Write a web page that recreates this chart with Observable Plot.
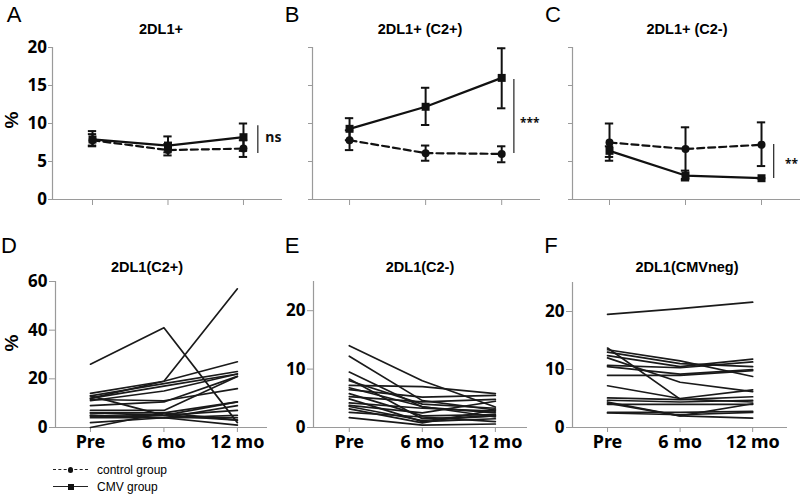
<!DOCTYPE html>
<html><head><meta charset="utf-8">
<script src="https://cdn.jsdelivr.net/npm/d3@7"></script>
<script src="https://cdn.jsdelivr.net/npm/@observablehq/plot@0.6"></script>
<style>
body{margin:0;background:#fff;}
#wrap{position:relative;width:800px;height:494px;overflow:hidden;font-family:"Liberation Sans",Arial,sans-serif;color:#000;}
#wrap svg{position:absolute;left:0;top:0;}
.lbl{position:absolute;white-space:nowrap;line-height:1;transform:translate(-50%,-50%);}
.letter{font-size:22px;}
.title{font-size:14.5px;font-weight:bold;}
.pct{font-size:19px;font-weight:bold;transform:translate(-50%,-50%) rotate(-90deg);}
.leg{position:absolute;font-size:12px;line-height:1;transform:translateY(-50%);white-space:nowrap;}
.sw{position:absolute;width:35px;height:0;}
.mk{position:absolute;background:#111;}
</style></head><body><div id="wrap"></div>
<script>
const times = ["Pre", "6 mo", "12 mo"];
const panelLetters = ["A", "B", "C", "D", "E", "F"];
const panelTitles = ["2DL1+", "2DL1+ (C2+)", "2DL1+ (C2-)", "2DL1(C2+)", "2DL1(C2-)", "2DL1(CMVneg)"];
const legendLabels = ["control group", "CMV group"];
const sigLabels = ["ns", "***", "**"];

// Panel A (mean, error low, error high)
const cmvA = [7.9, 7.1, 8.2], cmvALo = [7.0, 6.2, 6.4], cmvAHi = [9.0, 8.3, 10.0];
const ctlA = [7.8, 6.5, 6.7], ctlALo = [7.1, 5.8, 5.6], ctlAHi = [8.6, 7.3, 7.8];
// Panel B
const cmvB = [9.3, 12.2, 16.0], cmvBLo = [7.8, 9.8, 12.0], cmvBHi = [10.7, 14.7, 19.9];
const ctlB = [7.8, 6.1, 6.0], ctlBLo = [6.5, 5.1, 4.9], ctlBHi = [9.1, 7.1, 7.0];
// Panel C
const cmvC = [6.4, 3.15, 2.8], cmvCLo = [5.1, 2.5, 2.8], cmvCHi = [7.0, 3.8, 2.8];
const ctlC = [7.5, 6.65, 7.2], ctlCLo = [5.6, 2.7, 4.4], ctlCHi = [10.0, 9.5, 10.15];

// Significance brackets: [x, y1, y2, textX, textY, fontSize]
const sigA = [2.19, 9.7, 6.05, 2.29, 8.1, 14];
const sigB = [2.16, 15.8, 6.05, 2.24, 10.0, 12];
const sigC = [2.16, 7.25, 2.75, 2.31, 4.7, 12];

// Individual subjects (Pre, 6 mo, 12 mo)
const subjectsD = [
  [26, 41, 2], [12, 19, 57], [14, 19, 27], [13, 18, 23], [12, 17, 22], [11, 15, 22],
  [11.5, 11, 16], [9, 10.5, 21], [7, 7, 21], [0, 6, 10.5], [6, 5, 10.5], [5, 4, 9],
  [4.5, 5, 7], [13, 5, 3], [5, 4, 5], [2, 4, 4], [6, 6, 3], [4, 4, 1]
];
const subjectsE = [
  [14, 8, 3.5], [12.2, 4.6, 3.0], [9.5, 3.5, 2.5], [8.3, 1.5, 2.0], [8.0, 4.0, 3.3],
  [7.2, 7.0, 5.8], [6.5, 5.2, 5.5], [5.8, 2.0, 2.2], [5.3, 4.4, 4.8], [4.9, 1.0, 1.5],
  [4.2, 3.3, 2.8], [3.6, 1.2, 2.0], [3.2, 0.8, 3.0], [2.6, 1.8, 1.0], [1.7, 0.4, 0.6],
  [3.8, 2.5, 4.5], [6.8, 3.6, 1.8]
];
const subjectsF = [
  [19.5, 20.5, 21.6], [13.7, 4.9, 4.4], [13.4, 11.5, 8.8], [13.0, 11.0, 10.5],
  [12.4, 10.5, 11.8], [12.0, 7.8, 6.2], [10.7, 10.3, 11.3], [10.5, 9.2, 10.0],
  [9.0, 9.0, 9.8], [7.2, 5.0, 6.5], [5.1, 4.8, 5.3], [4.7, 4.4, 4.7],
  [4.4, 2.0, 4.1], [4.2, 2.0, 1.6], [2.6, 2.6, 2.8], [2.5, 2.2, 2.6], [4.0, 4.0, 4.0]
];

const W = 800, H = 494;
const wrap = document.getElementById("wrap");
const axisGrey = "#9a9a9a";

function topPanel({x0, x1, xdom, cmv, cmvLo, cmvHi, ctl, ctlLo, ctlHi, sig, label, showY}) {
  const rows = (vals, lo, hi, g) => vals.map((v, i) => ({i, v, lo: lo[i], hi: hi[i], g}));
  const cmvRows = rows(cmv, cmvLo, cmvHi, "CMV");
  const ctlRows = rows(ctl, ctlLo, ctlHi, "control");
  const all = [...ctlRows, ...cmvRows];
  const s = [{x: sig[0], y1: sig[1], y2: sig[2], tx: sig[3], ty: sig[4], label}];
  return Plot.plot({
    width: W, height: H,
    marginLeft: x0, marginRight: W - x1, marginTop: 47, marginBottom: H - 199,
    style: {background: "transparent", overflow: "visible"},
    x: {domain: xdom, label: null},
    y: {domain: [0, 20], label: null},
    marks: [
      Plot.ruleY([0], {stroke: axisGrey, strokeWidth: 1.2}),
      Plot.ruleX([xdom[0]], {stroke: axisGrey, strokeWidth: 1.2}),
      Plot.axisY({ticks: [0, 5, 10, 15, 20], tickSize: 4, tickPadding: 1.5, stroke: axisGrey,
        tickFormat: showY ? (d => d) : (() => ""), fontSize: 17, fontWeight: "bold", fill: "#000", label: null}),
      Plot.axisX({ticks: [0, 1, 2], tickSize: 6, stroke: axisGrey, tickFormat: () => "", label: null}),
      Plot.line(ctlRows, {x: "i", y: "v", stroke: "#111", strokeWidth: 2.2, strokeDasharray: "7,4"}),
      Plot.line(cmvRows, {x: "i", y: "v", stroke: "#111", strokeWidth: 2.2}),
      Plot.ruleX(all, {x: "i", y1: "lo", y2: "hi", stroke: "#111", strokeWidth: 2}),
      Plot.ruleY(all, {y: "hi", x1: d => d.i - 0.055, x2: d => d.i + 0.055, stroke: "#111", strokeWidth: 2}),
      Plot.ruleY(all, {y: "lo", x1: d => d.i - 0.055, x2: d => d.i + 0.055, stroke: "#111", strokeWidth: 2}),
      Plot.dot(ctlRows, {x: "i", y: "v", symbol: "circle", r: 4, fill: "#111"}),
      Plot.dot(cmvRows, {x: "i", y: "v", symbol: "square", r: 4.5, fill: "#111"}),
      Plot.ruleX(s, {x: "x", y1: "y1", y2: "y2", stroke: "#333", strokeWidth: 1.3}),
      Plot.text(s, {x: "tx", y: "ty", text: "label", textAnchor: "start", fontWeight: "bold", fontSize: sig[5], fill: "#111"})
    ]
  });
}

function bottomPanel({x0, x1, xdom, ymax, top, yticks, subjects}) {
  const rows = subjects.flatMap((s, k) => s.map((v, i) => ({k, i, v})));
  return Plot.plot({
    width: W, height: H,
    marginLeft: x0, marginRight: W - x1, marginTop: top, marginBottom: H - 427,
    style: {background: "transparent", overflow: "visible"},
    x: {domain: xdom, label: null},
    y: {domain: [0, ymax], label: null},
    marks: [
      Plot.ruleY([0], {stroke: axisGrey, strokeWidth: 1.2}),
      Plot.ruleX([xdom[0]], {stroke: axisGrey, strokeWidth: 1.2}),
      Plot.axisY({ticks: yticks, tickSize: 6, tickPadding: 2, stroke: axisGrey, fontSize: 17, fontWeight: "bold", fill: "#000", label: null}),
      Plot.axisX({ticks: [0, 1, 2], tickSize: 5, tickPadding: 3, stroke: axisGrey, tickFormat: i => times[i],
        fontSize: 18, fontWeight: "bold", fill: "#000", label: null}),
      Plot.line(rows, {x: "i", y: "v", z: "k", stroke: "#1a1a1a", strokeWidth: 1.7})
    ]
  });
}

wrap.append(topPanel({x0: 52, x1: 282, xdom: [-0.53, 2.517], cmv: cmvA, cmvLo: cmvALo, cmvHi: cmvAHi,
  ctl: ctlA, ctlLo: ctlALo, ctlHi: ctlAHi, sig: sigA, label: sigLabels[0], showY: true}));
wrap.append(topPanel({x0: 312, x1: 540, xdom: [-0.487, 2.51], cmv: cmvB, cmvLo: cmvBLo, cmvHi: cmvBHi,
  ctl: ctlB, ctlLo: ctlBLo, ctlHi: ctlBHi, sig: sigB, label: sigLabels[1], showY: false}));
wrap.append(topPanel({x0: 572, x1: 800, xdom: [-0.487, 2.513], cmv: cmvC, cmvLo: cmvCLo, cmvHi: cmvCHi,
  ctl: ctlC, ctlLo: ctlCLo, ctlHi: ctlCHi, sig: sigC, label: sigLabels[2], showY: false}));
wrap.append(bottomPanel({x0: 55, x1: 267, xdom: [-0.476, 2.41], ymax: 60, top: 281, yticks: [0, 20, 40, 60], subjects: subjectsD}));
wrap.append(bottomPanel({x0: 313, x1: 527, xdom: [-0.49, 2.44], ymax: 25, top: 281, yticks: [0, 10, 20], subjects: subjectsE}));
wrap.append(bottomPanel({x0: 572, x1: 787, xdom: [-0.483, 2.48], ymax: 25, top: 282, yticks: [0, 10, 20], subjects: subjectsF}));

function addLabel(cls, text, x, y) {
  const d = document.createElement("div");
  d.className = "lbl " + cls;
  d.textContent = text;
  d.style.left = x + "px";
  d.style.top = y + "px";
  wrap.append(d);
}
const letterPos = [[14, 15], [292, 15], [553, 15], [9, 246], [292, 246], [551, 246]];
const titlePos = [[161, 29], [420, 29], [687, 29], [147, 267], [420, 267], [687, 267]];
panelLetters.forEach((t, i) => addLabel("letter", t, letterPos[i][0], letterPos[i][1]));
panelTitles.forEach((t, i) => addLabel("title", t, titlePos[i][0], titlePos[i][1]));
addLabel("pct", "%", 11, 120);
addLabel("pct", "%", 11, 343);

// Legend
function legendRow(y, dashed, square, text) {
  const sw = document.createElement("div");
  sw.className = "sw";
  sw.style.left = "53px"; sw.style.top = (y - 1) + "px";
  sw.style.borderTop = dashed ? "1.6px dashed #222" : "1.6px solid #222";
  wrap.append(sw);
  const mk = document.createElement("div");
  mk.className = "mk";
  const s = square ? 6 : 5.5;
  mk.style.width = s + "px"; mk.style.height = s + "px";
  mk.style.left = (70.5 - s / 2) + "px"; mk.style.top = (y - s / 2) + "px";
  if (!square) mk.style.borderRadius = "50%";
  wrap.append(mk);
  const t = document.createElement("div");
  t.className = "leg";
  t.textContent = text;
  t.style.left = "97px"; t.style.top = y + "px";
  wrap.append(t);
}
legendRow(470, true, false, legendLabels[0]);
legendRow(487, false, true, legendLabels[1]);
</script></body></html>
